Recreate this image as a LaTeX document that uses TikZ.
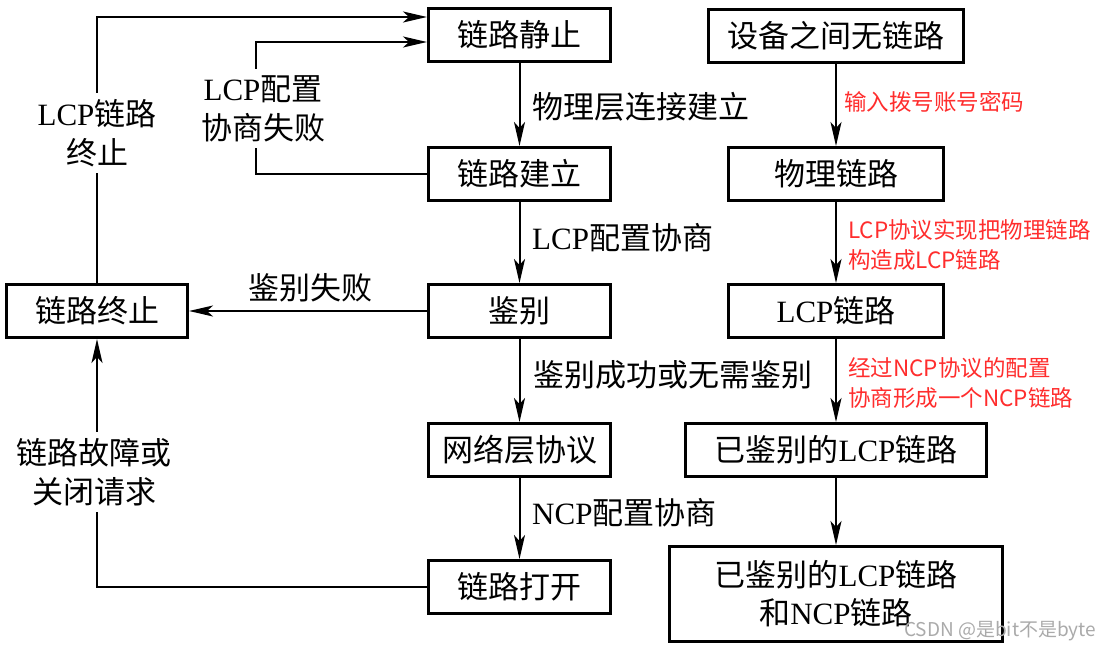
\documentclass[tikz,border=0pt]{standalone}
\usepackage{fontspec}
\setmainfont{Liberation Serif}
\newfontfamily\cjk{Noto Sans CJK SC}
\usetikzlibrary{arrows.meta}
\newcommand\Lt[1]{{\rmfamily #1}}
\definecolor{annred}{RGB}{255,45,45}
\definecolor{wmgray}{RGB}{170,170,170}
\begin{document}
\begin{tikzpicture}[x=1pt,y=-1pt,
  box/.style={draw,line width=3pt,inner sep=0pt,minimum height=53pt,align=center,font=\cjk\fontsize{31}{38}\selectfont},
  lbl/.style={font=\cjk\fontsize{31}{39}\selectfont,inner sep=0pt,align=center},
  llbl/.style={lbl,fill=white,inner xsep=2pt,inner ysep=6pt},
  slbl/.style={lbl,anchor=west,align=left},
  rlbl/.style={font=\cjk\fontsize{22.5}{30}\selectfont,text=annred,inner sep=0pt,align=left,anchor=west},
  conn/.style={line width=2pt,-{Stealth[length=24pt,width=11pt,inset=6pt]}},
]
\useasboundingbox (0,0) rectangle (1108,650);

% left column
\node[box,minimum width=182pt] (quiet) at (519.5,35) {链路静止};
\node[box,minimum width=182pt] (est) at (519.5,174) {链路建立};
\node[box,minimum width=182pt] (auth) at (519.5,311) {鉴别};
\node[box,minimum width=182pt] (net) at (519.5,450) {网络层协议};
\node[box,minimum width=182pt] (open) at (519.5,587) {链路打开};
\node[box,minimum width=181pt] (term) at (97,311) {链路终止};

% right column
\node[box,minimum width=255pt] (none) at (836,36) {设备之间无链路};
\node[box,minimum width=215pt] (phys) at (836,174) {物理链路};
\node[box,minimum width=215pt] (lcp) at (836,311) {\Lt{LCP}链路};
\node[box,minimum width=301pt] (auth2) at (836,450) {已鉴别的\Lt{LCP}链路};
\node[box,minimum width=333pt,minimum height=95pt] (both) at (836,594) {已鉴别的\Lt{LCP}链路\\和\Lt{NCP}链路};

% main vertical flow
\draw[conn] (quiet) -- (est);
\draw[conn] (est) -- (auth);
\draw[conn] (auth) -- (net);
\draw[conn] (net) -- (open);
\node[slbl] (t1) at (532,107) {物理层连接建立};
\node[slbl] (t2) at (532,238) {\Lt{LCP}配置协商};
\node[slbl] (t3) at (533,375) {鉴别成功或无需鉴别};
\node[slbl] (t4) at (532,513) {\Lt{NCP}配置协商};

% right flow
\draw[conn] (none) -- (phys);
\draw[conn] (phys) -- (lcp);
\draw[conn] (lcp) -- (auth2);
\draw[conn] (auth2) -- (both);
\node[rlbl] (r1) at (844,102) {输入拨号账号密码};
\node[rlbl] (r2) at (848,245) {LCP协议实现把物理链路\\构造成LCP链路};
\node[rlbl] (r3) at (848,383) {经过NCP协议的配置\\协商形成一个NCP链路};

% loops on the left
\coordinate (k1) at (256,174);
\draw[conn] (term.north) |- ([yshift=18pt]quiet.west);
\draw[conn] (est.west) -- (k1) |- ([yshift=-7pt]quiet.west);
\draw[conn] (auth) -- (term);
\draw[conn] (open.west) -| (term.south);
\node[llbl] (l1) at (97,133) {\Lt{LCP}链路\\终止};
\node[llbl] (l2) at (263,108.5) {\Lt{LCP}配置\\协商失败};
\node[lbl] (l3) at (310,288) {鉴别失败};
\node[llbl] (l4) at (94,472) {链路故障或\\关闭请求};

% watermark
\node[font=\cjk\fontsize{19}{21}\selectfont,text=wmgray,anchor=west,inner sep=0pt] (wm) at (904,631) {CSDN @是bit不是byte};
\end{tikzpicture}
\end{document}
